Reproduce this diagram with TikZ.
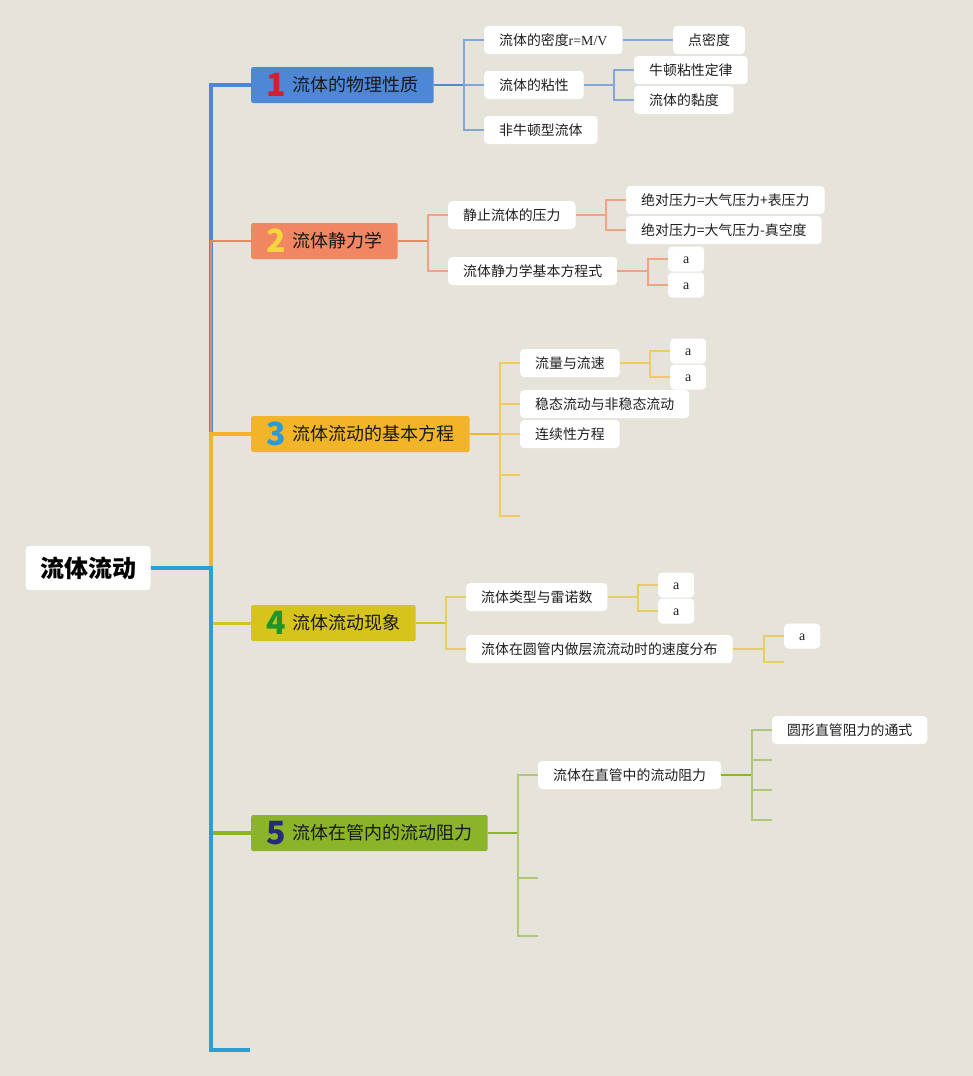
\documentclass[tikz,border=0pt]{standalone}
\usepackage{fontspec}
\setmainfont{Noto Sans CJK SC}
\newfontfamily\latfont{Liberation Serif}
\definecolor{paper}{HTML}{E6E3DA}
\definecolor{cA}{HTML}{4F87D7}
\definecolor{dA}{HTML}{82A6D8}
\definecolor{cB}{HTML}{F08662}
\definecolor{dB}{HTML}{F0A285}
\definecolor{cC}{HTML}{F2B52A}
\definecolor{dC}{HTML}{F2CA62}
\definecolor{cD}{HTML}{D6C31C}
\definecolor{dD}{HTML}{E2D065}
\definecolor{cE}{HTML}{8BB428}
\definecolor{dE}{HTML}{AFC67C}
\definecolor{cF}{HTML}{2A9FD6}
\definecolor{nA}{HTML}{D41F30}
\definecolor{nB}{HTML}{F7D63C}
\definecolor{nC}{HTML}{2A9AD8}
\definecolor{nD}{HTML}{1F962A}
\definecolor{nE}{HTML}{262A78}
\newcommand{\topicnum}[2]{\raisebox{-4.5pt}{\bfseries\fontsize{32}{32}\selectfont\color{#1}#2}\hspace{6pt}}
\begin{document}
\begin{tikzpicture}[x=1pt,y=-1pt,
  root/.style={fill=white,rounded corners=4pt,minimum width=125pt,minimum height=44pt,inner sep=0pt,font=\bfseries\fontsize{24}{24}\selectfont},
  topic/.style={rounded corners=2pt,anchor=west,minimum height=36pt,inner xsep=15.5pt,inner ysep=0pt,text height=15.8pt,text depth=2.2pt,text=black!90,font=\fontsize{18}{18}\selectfont},
  leaf/.style={fill=white,rounded corners=4pt,anchor=west,inner xsep=15pt,inner ysep=0pt,minimum height=28pt,text height=12.2pt,text depth=1.7pt,text=black!88,font=\fontsize{13.9}{14}\selectfont},
  abox/.style={leaf,minimum height=25pt,minimum width=36pt,inner xsep=0pt,text height=9pt,text depth=1pt,font=\latfont\fontsize{14}{14}\selectfont}]
\useasboundingbox[fill=paper] (0,0) rectangle (973,1076);
\coordinate (tk) at (211,568);
\node[root] (root) at (88,568) {流体流动};
\node[topic,fill=cA] (b1) at (251,85) {\topicnum{nA}{1}流体的物理性质};
\node[topic,fill=cB] (b2) at (251,241) {\topicnum{nB}{2}流体静力学};
\node[topic,fill=cC] (b3) at (251,434) {\topicnum{nC}{3}流体流动的基本方程};
\node[topic,fill=cD] (b4) at (251,623) {\topicnum{nD}{4}流体流动现象};
\node[topic,fill=cE] (b5) at (251,833) {\topicnum{nE}{5}流体在管内的流动阻力};
\coordinate (e6) at (250,1050);
\draw[cA,line width=4.5pt] (root.east) -- (tk) |- (b1.west);
\draw[cB,line width=2pt] (root.east) -- (tk) |- (b2.west);
\draw[cC,line width=4.5pt] (root.east) -- (tk) |- (b3.west);
\draw[cD,line width=3pt] (root.east) -- (tk) |- (b4.west);
\draw[cE,line width=4.5pt] (root.east) -- (tk) |- (b5.west);
\draw[cF,line width=3.5pt] (root.east) -- (tk) |- (e6);

\node[leaf] (l11) at (484,40) {流体的密度{\latfont r=M/V}};
\node[leaf] (l111) at (673,40) {点密度};
\node[leaf] (l12) at (484,85) {流体的粘性};
\node[leaf] (l121) at (634,70) {牛顿粘性定律};
\node[leaf] (l122) at (634,100) {流体的黏度};
\node[leaf] (l13) at (484,130) {非牛顿型流体};
\coordinate (k1) at (464,85);
\coordinate (k12) at (614,85);
\draw[cA,line width=2pt] (b1.east) -- (k1);
\draw[dA,line width=1.4pt] (k1) |- (l11.west) (k1) |- (l12.west) (k1) |- (l13.west);
\draw[dA,line width=1.4pt] (l11.east) -- (l111.west);
\draw[dA,line width=1.4pt] (l12.east) -- (k12) |- (l121.west) (k12) |- (l122.west);

\node[leaf] (l21) at (448,215) {静止流体的压力};
\node[leaf] (l211) at (626,200) {绝对压力=大气压力+表压力};
\node[leaf] (l212) at (626,230) {绝对压力=大气压力-真空度};
\node[leaf] (l22) at (448,271) {流体静力学基本方程式};
\node[abox] (l221) at (668,259) {a};
\node[abox] (l222) at (668,285) {a};
\coordinate (k2) at (428,241);
\coordinate (k21) at (606,215);
\coordinate (k22) at (648,271);
\draw[cB,line width=2pt] (b2.east) -- (k2);
\draw[dB,line width=1.4pt] (k2) |- (l21.west) (k2) |- (l22.west);
\draw[dB,line width=1.4pt] (l21.east) -- (k21) |- (l211.west) (k21) |- (l212.west);
\draw[dB,line width=1.4pt] (l22.east) -- (k22) |- (l221.west) (k22) |- (l222.west);

\node[leaf] (l31) at (520,363) {流量与流速};
\node[abox] (l311) at (670,351) {a};
\node[abox] (l312) at (670,377) {a};
\node[leaf] (l32) at (520,404) {稳态流动与非稳态流动};
\node[leaf] (l33) at (520,434) {连续性方程};
\coordinate (s34) at (520,475);
\coordinate (s35) at (520,516);
\coordinate (k3) at (500,434);
\coordinate (k31) at (650,363);
\draw[cC,line width=2pt] (b3.east) -- (k3);
\draw[dC,line width=1.4pt] (k3) |- (l31.west) (k3) |- (l32.west) (k3) -- (l33.west) (k3) |- (s34) (k3) |- (s35);
\draw[dC,line width=1.4pt] (l31.east) -- (k31) |- (l311.west) (k31) |- (l312.west);

\node[leaf] (l41) at (466,597) {流体类型与雷诺数};
\node[abox] (l411) at (658,585) {a};
\node[abox] (l412) at (658,611) {a};
\node[leaf] (l42) at (466,649) {流体在圆管内做层流流动时的速度分布};
\node[abox] (l421) at (784,636) {a};
\coordinate (s422) at (784,662);
\coordinate (k4) at (446,623);
\coordinate (k41) at (638,597);
\coordinate (k42) at (764,649);
\draw[cD,line width=2pt] (b4.east) -- (k4);
\draw[dD,line width=1.4pt] (k4) |- (l41.west) (k4) |- (l42.west);
\draw[dD,line width=1.4pt] (l41.east) -- (k41) |- (l411.west) (k41) |- (l412.west);
\draw[dD,line width=1.4pt] (l42.east) -- (k42) |- (l421.west) (k42) |- (s422);

\node[leaf] (l51) at (538,775) {流体在直管中的流动阻力};
\node[leaf] (l511) at (772,730) {圆形直管阻力的通式};
\coordinate (s512) at (772,760);
\coordinate (s513) at (772,790);
\coordinate (s514) at (772,820);
\coordinate (s52) at (538,878);
\coordinate (s53) at (538,936);
\coordinate (k5) at (518,833);
\coordinate (k51) at (752,775);
\draw[cE,line width=2pt] (b5.east) -- (k5);
\draw[dE,line width=1.4pt] (k5) |- (l51.west) (k5) |- (s52) (k5) |- (s53);
\draw[cE,line width=2pt] (l51.east) -- (k51);
\draw[dE,line width=1.4pt] (k51) |- (l511.west) (k51) |- (s512) (k51) |- (s513) (k51) |- (s514);
\end{tikzpicture}
\end{document}
